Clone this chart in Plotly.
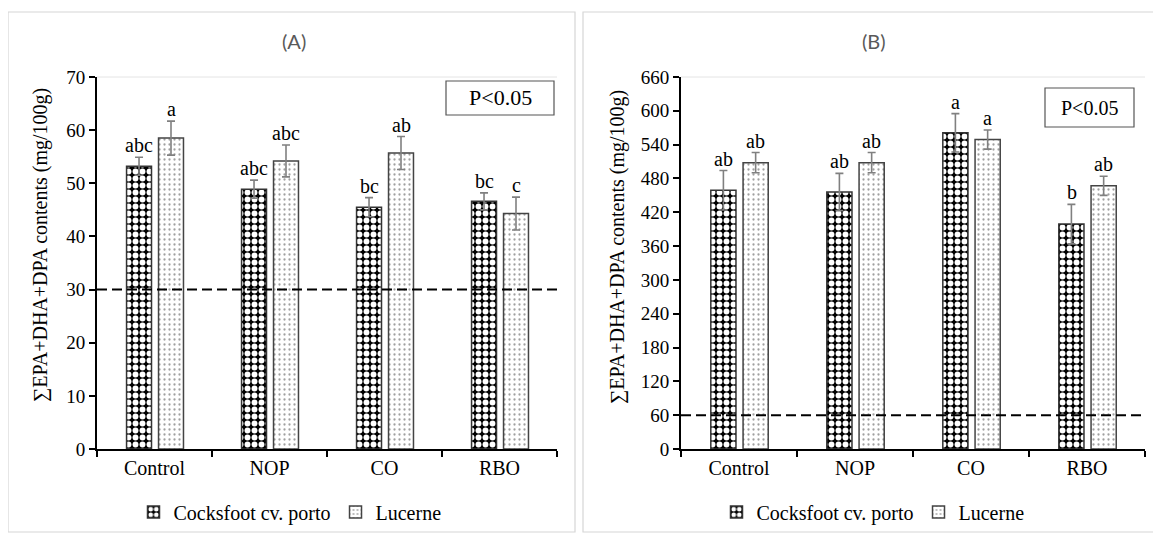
import plotly.graph_objects as go

categories = ["Control", "NOP", "CO", "RBO"]

# Panel A
a_cocksfoot = [53.2, 48.9, 45.5, 46.6]
a_cocksfoot_err = [1.7, 1.7, 1.8, 1.6]
a_lucerne = [58.5, 54.2, 55.7, 44.3]
a_lucerne_err = [3.2, 3.0, 3.1, 3.1]
a_cocksfoot_letters = ["abc", "abc", "bc", "bc"]
a_lucerne_letters = ["a", "abc", "ab", "c"]

# Panel B
b_cocksfoot = [459, 456, 561, 399]
b_cocksfoot_err = [35, 33, 34, 35]
b_lucerne = [508, 508, 549, 467]
b_lucerne_err = [18, 18, 17, 17]
b_cocksfoot_letters = ["ab", "ab", "a", "b"]
b_lucerne_letters = ["ab", "ab", "a", "ab"]

a_ticks = [0, 10, 20, 30, 40, 50, 60, 70]
b_ticks = [0, 60, 120, 180, 240, 300, 360, 420, 480, 540, 600, 660]
a_threshold = 30
b_threshold = 60

W, H = 1161, 534
OX, OY = 8, 8  # page body margin offset
SERIF = "Liberation Serif"

def px(x):
    return (x - OX) / W

def py(y):
    return 1 - (y - OY) / H

cock_marker = dict(color="black", line=dict(color="#333333", width=1.5),
                   pattern=dict(shape=".", fgcolor="white", bgcolor="black",
                                size=7, solidity=0.55, fillmode="replace"))
luc_marker = dict(color="white", line=dict(color="#444444", width=1.5),
                  pattern=dict(shape=".", fgcolor="#a0a0a0", bgcolor="white",
                               size=5, solidity=0.16, fillmode="replace"))
err_style = dict(type="data", color="#808080", thickness=1.6, width=4)

W_BAR = 0.217
OFF_C = -0.243
OFF_L = 0.035

fig = go.Figure()

panels = [
    ("x", "y", "legend", a_cocksfoot, a_cocksfoot_err, a_lucerne, a_lucerne_err),
    ("x2", "y2", "legend2", b_cocksfoot, b_cocksfoot_err, b_lucerne, b_lucerne_err),
]
for xa, ya, lg, cv, ce, lv, le in panels:
    fig.add_trace(go.Bar(x=categories, y=cv, name="Cocksfoot cv. porto",
                         width=W_BAR, offset=OFF_C, marker=cock_marker,
                         error_y=dict(array=ce, **err_style),
                         xaxis=xa, yaxis=ya, legend=lg))
    fig.add_trace(go.Bar(x=categories, y=lv, name="Lucerne",
                         width=W_BAR, offset=OFF_L, marker=luc_marker,
                         error_y=dict(array=le, **err_style),
                         xaxis=xa, yaxis=ya, legend=lg))

annotations = []
shift_c = -15.5
shift_l = 16.5
for xa, ya, vals, errs, letters, sh in [
    ("x", "y", a_cocksfoot, a_cocksfoot_err, a_cocksfoot_letters, shift_c),
    ("x", "y", a_lucerne, a_lucerne_err, a_lucerne_letters, shift_l),
    ("x2", "y2", b_cocksfoot, b_cocksfoot_err, b_cocksfoot_letters, shift_c),
    ("x2", "y2", b_lucerne, b_lucerne_err, b_lucerne_letters, shift_l),
]:
    for c, v, e, t in zip(categories, vals, errs, letters):
        annotations.append(dict(x=c, y=v + e, xref=xa, yref=ya, text=t,
                                showarrow=False, xshift=sh, yshift=-1,
                                xanchor="center", yanchor="bottom",
                                font=dict(family=SERIF, size=20, color="black")))

def paper_text(x, y, text, font, angle=0):
    return dict(x=px(x), y=py(y), xref="paper", yref="paper", text=text,
                showarrow=False, xanchor="center", yanchor="middle",
                textangle=angle, font=font)

title_font = dict(family="Lato", size=20, color="#595959")
annotations.append(paper_text(294, 41, "(A)", title_font))
annotations.append(paper_text(874, 41, "(B)", title_font))
ytitle = "∑EPA+DHA+DPA contents (mg/100g)"
annotations.append(paper_text(40, 245, ytitle, dict(family=SERIF, size=20, color="black"), -90))
annotations.append(paper_text(617, 247, ytitle, dict(family=SERIF, size=20, color="black"), -90))
annotations.append(paper_text(500, 98, "P<0.05", dict(family=SERIF, size=22, color="black")))
annotations.append(paper_text(1089.5, 107.5, "P<0.05", dict(family=SERIF, size=20, color="black")))

shapes = [
    dict(type="rect", xref="paper", yref="paper", x0=px(8), x1=px(575), y0=py(532), y1=py(12),
         line=dict(color="#d6d6d6", width=1.2), layer="below"),
    dict(type="rect", xref="paper", yref="paper", x0=px(583), x1=px(1158), y0=py(532), y1=py(12),
         line=dict(color="#d6d6d6", width=1.2), layer="below"),
    dict(type="rect", xref="paper", yref="paper", x0=px(446), x1=px(554), y0=py(115), y1=py(81),
         line=dict(color="#555555", width=1.2)),
    dict(type="rect", xref="paper", yref="paper", x0=px(1045), x1=px(1134), y0=py(127), y1=py(88),
         line=dict(color="#555555", width=1.2)),
    dict(type="line", xref="x domain", yref="y domain", x0=0, x1=1, y0=1, y1=1,
         line=dict(color="#e4e4e4", width=1), layer="below"),
    dict(type="line", xref="x2 domain", yref="y2 domain", x0=0, x1=1, y0=1, y1=1,
         line=dict(color="#e4e4e4", width=1), layer="below"),
    dict(type="line", xref="x domain", yref="y", x0=0, x1=1, y0=a_threshold, y1=a_threshold,
         line=dict(color="black", width=2, dash="10px,5px")),
    dict(type="line", xref="x2 domain", yref="y2", x0=0, x1=1, y0=b_threshold, y1=b_threshold,
         line=dict(color="black", width=2, dash="10px,5px")),
]

xaxis_common = dict(type="category", range=[-0.5, 3.5], showline=True, linecolor="black",
                    linewidth=2, ticks="outside", tickson="boundaries", ticklen=6,
                    tickcolor="black", tickwidth=1.5, showgrid=False, zeroline=False,
                    automargin=False,
                    tickfont=dict(family=SERIF, size=20, color="black"))
yaxis_common = dict(showline=True, linecolor="black", linewidth=2, ticks="outside",
                    ticklen=6, tickcolor="black", tickwidth=1.5, showgrid=False,
                    zeroline=False, automargin=False,
                    tickfont=dict(family=SERIF, size=19, color="black"))

legend_common = dict(orientation="h", xanchor="center", yanchor="middle",
                     font=dict(family=SERIF, size=20, color="black"),
                     bgcolor="rgba(0,0,0,0)", itemwidth=30, traceorder="normal")

fig.update_layout(
    template="none",
    font=dict(family=SERIF, size=19, color="black"),
    width=W, height=H, autosize=False,
    margin=dict(l=0, r=0, t=0, b=0, pad=0, autoexpand=False),
    paper_bgcolor="white", plot_bgcolor="white",
    barmode="overlay",
    xaxis=dict(domain=[px(97), px(557)], anchor="y", **xaxis_common),
    yaxis=dict(domain=[py(449), py(77)], anchor="x", range=[0, 70], tickvals=a_ticks, **yaxis_common),
    xaxis2=dict(domain=[px(681), px(1145)], anchor="y2", **xaxis_common),
    yaxis2=dict(domain=[py(449), py(77)], anchor="x2", range=[0, 660], tickvals=b_ticks, **yaxis_common),
    legend=dict(x=px(290), y=py(512), **legend_common),
    legend2=dict(x=px(873), y=py(512), **legend_common),
    annotations=annotations,
    shapes=shapes,
)

fig.write_html("out.html")
